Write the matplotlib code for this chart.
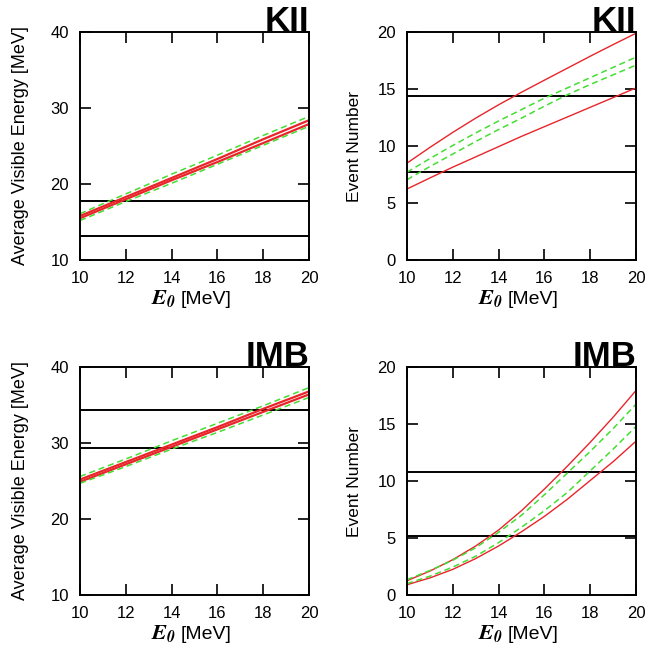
import numpy as np
import matplotlib.pyplot as plt

plt.rcParams['font.family'] = ['Liberation Sans', 'DejaVu Sans']
plt.rcParams['mathtext.fontset'] = 'stix'

# energy panels are nearly straight, event panels are curved
E0_e = [10, 12, 14, 16, 18, 20]
E0_n = [10, 11, 12, 13, 14, 15, 16, 17, 18, 19, 20]

# KII average visible energy
kii_e_red_hi = [15.8, 18.3, 20.8, 23.3, 25.9, 28.4]
kii_e_red_lo = [15.5, 18.0, 20.5, 22.9, 25.4, 27.9]
kii_e_grn_hi = [16.1, 18.7, 21.3, 23.8, 26.4, 28.9]
kii_e_grn_lo = [15.2, 17.7, 20.1, 22.6, 25.1, 27.6]
kii_e_obs = [17.8, 13.1]

# KII event number
kii_n_red_hi = [8.5, 9.88, 11.2, 12.45, 13.62, 14.72, 15.78, 16.83, 17.88, 18.9, 19.9]
kii_n_red_lo = [6.23, 7.2, 8.15, 9.05, 9.95, 10.85, 11.7, 12.55, 13.4, 14.25, 15.1]
kii_n_grn_hi = [7.7, 8.9, 10.05, 11.15, 12.2, 13.2, 14.2, 15.1, 16.0, 16.9, 17.8]
kii_n_grn_lo = [7.05, 8.2, 9.3, 10.4, 11.45, 12.45, 13.5, 14.5, 15.4, 16.25, 17.1]
kii_n_obs = [14.36, 7.72]

# IMB average visible energy
imb_e_red_hi = [25.2, 27.5, 29.8, 32.1, 34.5, 36.8]
imb_e_red_lo = [24.9, 27.2, 29.5, 31.8, 34.1, 36.4]
imb_e_grn_hi = [25.6, 27.9, 30.3, 32.6, 34.9, 37.3]
imb_e_grn_lo = [24.7, 26.9, 29.2, 31.4, 33.7, 36.0]
imb_e_obs = [34.4, 29.3]

# IMB event number
imb_n_red_hi = [1.25, 2.1, 3.1, 4.3, 5.7, 7.4, 9.3, 11.3, 13.4, 15.6, 17.95]
imb_n_red_lo = [0.9, 1.5, 2.25, 3.2, 4.3, 5.55, 6.9, 8.4, 10.05, 11.7, 13.5]
imb_n_grn_hi = [1.35, 2.15, 3.05, 4.15, 5.5, 7.0, 8.8, 10.7, 12.6, 14.6, 16.75]
imb_n_grn_lo = [1.0, 1.65, 2.45, 3.4, 4.6, 5.95, 7.4, 9.0, 10.9, 12.8, 14.8]
imb_n_obs = [10.8, 5.2]

red = '#e8252b'
green = '#44dd33'

fig = plt.figure(figsize=(6.49, 6.54), dpi=100)
w, h = 0.353, 0.3486
axes = [fig.add_axes([0.1233, 0.6024, w, h]),
        fig.add_axes([0.6271, 0.6024, w, h]),
        fig.add_axes([0.1233, 0.0902, w, h]),
        fig.add_axes([0.6271, 0.0902, w, h])]

panels = [
    (E0_e, kii_e_red_hi, kii_e_red_lo, kii_e_grn_hi, kii_e_grn_lo, kii_e_obs,
     (10, 40), [10, 20, 30, 40], 'Average Visible Energy [MeV]', 'KII', 1.6),
    (E0_n, kii_n_red_hi, kii_n_red_lo, kii_n_grn_hi, kii_n_grn_lo, kii_n_obs,
     (0, 20), [0, 5, 10, 15, 20], 'Event Number', 'KII', 1.0),
    (E0_e, imb_e_red_hi, imb_e_red_lo, imb_e_grn_hi, imb_e_grn_lo, imb_e_obs,
     (10, 40), [10, 20, 30, 40], 'Average Visible Energy [MeV]', 'IMB', 1.6),
    (E0_n, imb_n_red_hi, imb_n_red_lo, imb_n_grn_hi, imb_n_grn_lo, imb_n_obs,
     (0, 20), [0, 5, 10, 15, 20], 'Event Number', 'IMB', 1.0),
]

for ax, (x, rh, rl, gh, gl, obs, ylim, yt, ylab, title, rlw) in zip(axes, panels):
    for yv in obs:
        ax.axhline(yv, color='black', lw=1.4)
    ax.plot(x, rh, color=red, lw=rlw)
    ax.plot(x, rl, color=red, lw=rlw)
    ax.plot(x, gh, color=green, lw=1.1, dashes=(4, 2.5))
    ax.plot(x, gl, color=green, lw=1.1, dashes=(4, 2.5))
    ax.set_xlim(10, 20)
    ax.set_ylim(*ylim)
    ax.set_xticks([10, 12, 14, 16, 18, 20])
    ax.set_yticks(yt)
    ax.tick_params(direction='in', length=8, width=1.2, top=True, right=True,
                   labelsize=12, pad=8)
    for s in ax.spines.values():
        s.set_linewidth(1.4)
    if ylim[0] == 10:
        ax.set_ylabel(ylab, fontsize=13, labelpad=15)
    else:
        ax.set_ylabel(ylab, fontsize=12.5, labelpad=11)
    # x label: big italic E0 followed by [MeV]
    ax.annotate(r'$\mathbfit{E}_{\mathbfit{0}}$', xy=(0.5, 0), xycoords='axes fraction',
                xytext=(-13, -32), textcoords='offset points',
                ha='right', va='baseline', fontsize=16)
    ax.annotate('[MeV]', xy=(0.5, 0), xycoords='axes fraction',
                xytext=(-10, -32), textcoords='offset points',
                ha='left', va='baseline', fontsize=14)
    ax.set_title(title, loc='right', fontsize=25, fontweight='bold', pad=1)

fig.savefig('out.png', dpi=100)
